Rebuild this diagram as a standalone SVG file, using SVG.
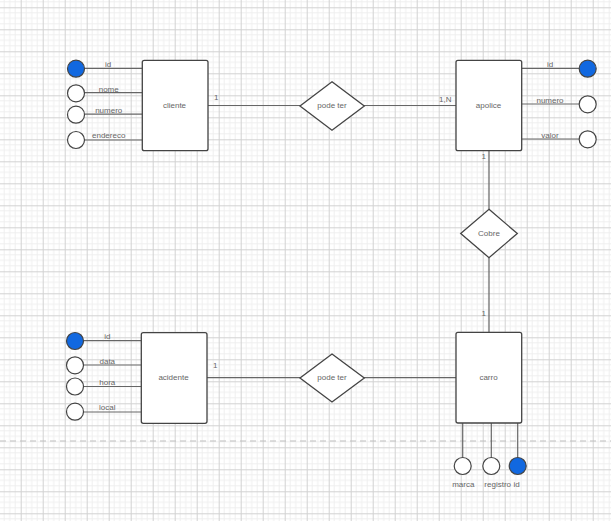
<svg xmlns="http://www.w3.org/2000/svg" width="611" height="521" viewBox="0 0 611 521">
  <defs>
    <pattern id="grid" patternUnits="userSpaceOnUse" x="20.7" y="29.3" width="22" height="22">
      <path d="M5.5 0V22M11 0V22M16.5 0V22M0 5.5H22M0 11H22M0 16.5H22" stroke="#efefef" stroke-width="1" fill="none"/>
      <path d="M0.5 0V22M0 0.5H22" stroke="#d2d2d2" stroke-width="1" fill="none"/>
    </pattern>
    <style>
      .ent { fill: #ffffff; stroke: #444444; stroke-width: 1.3; }
      .rel { fill: #ffffff; stroke: #444444; stroke-width: 1.3; }
      .att { fill: #ffffff; stroke: #444444; stroke-width: 1.2; }
      .key { fill: #1168e0; stroke: #444444; stroke-width: 1.2; }
      .ln { stroke: #666666; stroke-width: 1.2; fill: none; }
      text { font-family: "Liberation Sans", Arial, sans-serif; font-size: 8px; fill: #666666; }
      .c { text-anchor: middle; dominant-baseline: central; }
    </style>
  </defs>

  <rect width="611" height="521" fill="#ffffff"/>
  <rect width="611" height="521" fill="url(#grid)"/>
  <line x1="0" y1="441" x2="611" y2="441" stroke="#bdbdbd" stroke-width="1.2" stroke-dasharray="6 4"/>

  <!-- connectors -->
  <g id="connectors">
    <!-- cliente attributes -->
    <line class="ln" x1="84.5" y1="68.3" x2="142" y2="68.3"/>
    <line class="ln" x1="84.5" y1="92.7" x2="142" y2="92.7"/>
    <line class="ln" x1="84.5" y1="114.2" x2="142" y2="114.2"/>
    <line class="ln" x1="84.5" y1="140" x2="142" y2="140"/>
    <!-- apolice attributes -->
    <line class="ln" x1="522" y1="68.3" x2="579.3" y2="68.3"/>
    <line class="ln" x1="522" y1="104" x2="579.3" y2="104"/>
    <line class="ln" x1="522" y1="139" x2="579.3" y2="139"/>
    <!-- acidente attributes -->
    <line class="ln" x1="83.5" y1="340.7" x2="141" y2="340.7"/>
    <line class="ln" x1="83.5" y1="365" x2="141" y2="365"/>
    <line class="ln" x1="83.5" y1="386.5" x2="141" y2="386.5"/>
    <line class="ln" x1="83.5" y1="412" x2="141" y2="412"/>
    <!-- carro attributes -->
    <line class="ln" x1="462.7" y1="423" x2="462.7" y2="457.5"/>
    <line class="ln" x1="491.3" y1="423" x2="491.3" y2="457.5"/>
    <line class="ln" x1="517.7" y1="423" x2="517.7" y2="457.5"/>
    <!-- relationships -->
    <line class="ln" x1="208" y1="105.5" x2="300" y2="105.5"/>
    <line class="ln" x1="364" y1="105.5" x2="456" y2="105.5"/>
    <line class="ln" x1="489" y1="151" x2="489" y2="209.5"/>
    <line class="ln" x1="489" y1="257.5" x2="489" y2="332"/>
    <line class="ln" x1="207" y1="377.7" x2="300" y2="377.7"/>
    <line class="ln" x1="364" y1="377.7" x2="456" y2="377.7"/>
    <!-- cardinalities -->
    <text x="214" y="100">1</text>
    <text x="439" y="101.5">1,N</text>
    <text x="481.5" y="158.5">1</text>
    <text x="481.5" y="315.5">1</text>
    <text x="213" y="368">1</text>
  </g>

  <g id="cliente">
    <rect class="ent" x="142.3" y="60.3" width="65.7" height="90.4" rx="2"/>
    <text class="c" x="174.5" y="105.7">cliente</text>
  </g>
  <g id="cliente-id">
    <circle class="key" cx="76" cy="68.7" r="8.5"/>
    <text class="c" x="108" y="64">id</text>
  </g>
  <g id="cliente-nome">
    <circle class="att" cx="76" cy="93.3" r="8.5"/>
    <text class="c" x="108.7" y="89.5">nome</text>
  </g>
  <g id="cliente-numero">
    <circle class="att" cx="76" cy="114.7" r="8.5"/>
    <text class="c" x="108.7" y="110.5">numero</text>
  </g>
  <g id="cliente-endereco">
    <circle class="att" cx="76" cy="140" r="8.5"/>
    <text class="c" x="108.7" y="135.5">endereco</text>
  </g>

  <g id="pode-ter-1">
    <polygon class="rel" points="332,81.7 364.3,106 332,130.3 300,106"/>
    <text class="c" x="332" y="105.7">pode ter</text>
  </g>

  <g id="apolice">
    <rect class="ent" x="456" y="60.3" width="65.7" height="90.4" rx="2"/>
    <text class="c" x="488.5" y="105.7">apolice</text>
  </g>
  <g id="apolice-id">
    <circle class="key" cx="587.7" cy="68.7" r="8.5"/>
    <text class="c" x="550" y="64">id</text>
  </g>
  <g id="apolice-numero">
    <circle class="att" cx="587.7" cy="104.3" r="8.5"/>
    <text class="c" x="550" y="100.5">numero</text>
  </g>
  <g id="apolice-valor">
    <circle class="att" cx="587.7" cy="139.3" r="8.5"/>
    <text class="c" x="550" y="135.5">valor</text>
  </g>

  <g id="cobre">
    <polygon class="rel" points="489,209.3 517.3,233.5 489,257.7 460.7,233.5"/>
    <text class="c" x="489" y="233.3">Cobre</text>
  </g>

  <g id="acidente">
    <rect class="ent" x="141.3" y="332.7" width="65.7" height="90.6" rx="2"/>
    <text class="c" x="173.5" y="377.7">acidente</text>
  </g>
  <g id="acidente-id">
    <circle class="key" cx="75" cy="341" r="8.5"/>
    <text class="c" x="107.3" y="336">id</text>
  </g>
  <g id="acidente-data">
    <circle class="att" cx="75" cy="365.3" r="8.5"/>
    <text class="c" x="107.3" y="361.5">data</text>
  </g>
  <g id="acidente-hora">
    <circle class="att" cx="75" cy="386.5" r="8.5"/>
    <text class="c" x="107.3" y="382">hora</text>
  </g>
  <g id="acidente-local">
    <circle class="att" cx="75" cy="411.7" r="8.5"/>
    <text class="c" x="107.3" y="407.3">local</text>
  </g>

  <g id="pode-ter-2">
    <polygon class="rel" points="332,354 364.3,378 332,402 300,378"/>
    <text class="c" x="332" y="377.5">pode ter</text>
  </g>

  <g id="carro">
    <rect class="ent" x="456" y="332.3" width="65.7" height="90.7" rx="2"/>
    <text class="c" x="488.5" y="377.7">carro</text>
  </g>
  <g id="carro-marca">
    <circle class="att" cx="462.7" cy="466" r="8.5"/>
    <text class="c" x="463.3" y="484.7">marca</text>
  </g>
  <g id="carro-registro">
    <circle class="att" cx="491.3" cy="466" r="8.5"/>
    <text class="c" x="497.7" y="484.7">registro</text>
  </g>
  <g id="carro-id">
    <circle class="key" cx="517.7" cy="466" r="8.5"/>
    <text class="c" x="516.7" y="484.7">id</text>
  </g>
</svg>
